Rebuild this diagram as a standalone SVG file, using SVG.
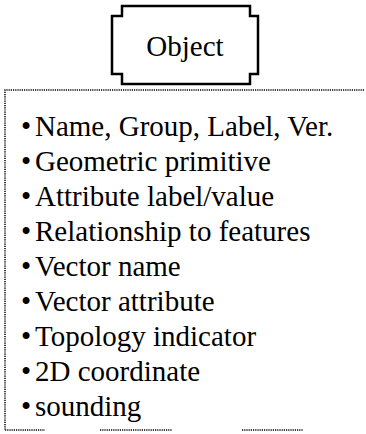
<svg xmlns="http://www.w3.org/2000/svg" width="366" height="434" viewBox="0 0 366 434">
<style>
.t{font-family:"Liberation Serif","Times New Roman",serif;font-size:29px;fill:#000}
.box{fill:#fff;stroke:#000;stroke-width:2.5}
.dot{fill:none;stroke:#000;stroke-width:1.5;stroke-dasharray:1.2 1}
</style>
<rect width="366" height="434" fill="#fff"/>
<g id="object">
<path class="box" d="M122,6 H250 V16 H258 V74 H250 V84 H122 V74 H112 V16 H122 Z"/>
<text class="t" x="185" y="56" text-anchor="middle">Object</text>
</g>
<g id="attributes">
<path class="dot" d="M364,90 H5 V430"/>
<path class="dot" d="M5,430 H45 M100,430 H172 M242,430 H303"/>
<text class="t" y="136"><tspan x="21">•</tspan><tspan x="35">Name, Group, Label, Ver.</tspan></text>
<text class="t" y="171"><tspan x="21">•</tspan><tspan x="35">Geometric primitive</tspan></text>
<text class="t" y="206"><tspan x="21">•</tspan><tspan x="35">Attribute label/value</tspan></text>
<text class="t" y="241"><tspan x="21">•</tspan><tspan x="35">Relationship to features</tspan></text>
<text class="t" y="276"><tspan x="21">•</tspan><tspan x="35">Vector name</tspan></text>
<text class="t" y="311"><tspan x="21">•</tspan><tspan x="35">Vector attribute</tspan></text>
<text class="t" y="346"><tspan x="21">•</tspan><tspan x="35">Topology indicator</tspan></text>
<text class="t" y="381"><tspan x="21">•</tspan><tspan x="35">2D coordinate</tspan></text>
<text class="t" y="416"><tspan x="21">•</tspan><tspan x="35">sounding</tspan></text>
</g>
</svg>
